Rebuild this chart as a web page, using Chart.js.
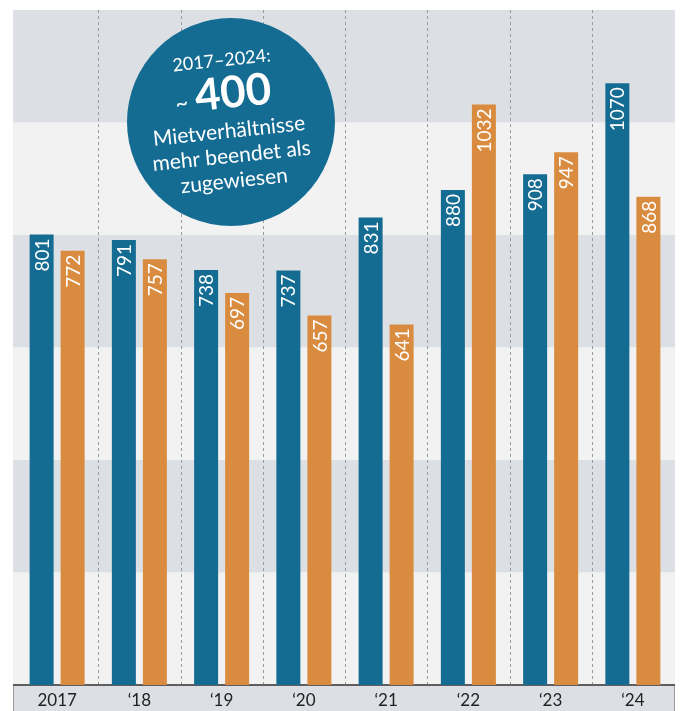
<!DOCTYPE html>
<html>
<head>
<meta charset="utf-8">
<script src="https://cdn.jsdelivr.net/npm/chart.js@4/dist/chart.umd.min.js"></script>
<style>
  body { margin: 0; background: #fff; }
  canvas { display: block; }
</style>
</head>
<body>
<canvas id="myChart" width="681" height="711"></canvas>
<script>
// Chart data
let years = ['2017', '‘18', '‘19', '‘20', '‘21', '‘22', '‘23', '‘24'];
let beendet = [801, 791, 738, 737, 831, 880, 908, 1070];
let zugewiesen = [772, 757, 697, 657, 641, 1032, 947, 868];
let bandTicks = [0, 200, 400, 600, 800, 1000, 1200];
let calloutLines = ['2017–2024:', '400', 'Mietverhältnisse', 'mehr beendet als', 'zugewiesen'];

let blue = '#156c93';
let orange = '#d98c40';
let darkBand = '#dce0e4';
let lightBand = '#f2f2f2';
let fontName = 'Lato, "Noto Sans", sans-serif';

// Background bands, bottom label strip and dashed separators
let backgroundPlugin = {
  id: 'background',
  beforeDraw(chart) {
    let ctx = chart.ctx;
    let area = chart.chartArea;
    let y = chart.scales.y;
    let left = area.left - 3;
    let right = area.right + 1;
    ctx.save();
    ctx.fillStyle = '#fff';
    ctx.fillRect(0, 0, chart.width, chart.height);
    for (let i = 0; i < bandTicks.length - 1; i++) {
      let top = y.getPixelForValue(bandTicks[i + 1]);
      let bottom = y.getPixelForValue(bandTicks[i]);
      ctx.fillStyle = i % 2 === 0 ? lightBand : darkBand;
      ctx.fillRect(left, top, right - left, bottom - top);
    }
    // label strip
    ctx.fillStyle = darkBand;
    ctx.fillRect(left, area.bottom, right - left, chart.height - area.bottom);
    ctx.strokeStyle = '#9a9a9a';
    ctx.lineWidth = 1;
    ctx.beginPath();
    ctx.moveTo(left + 0.5, area.bottom);
    ctx.lineTo(left + 0.5, chart.height);
    ctx.moveTo(right - 0.5, area.bottom);
    ctx.lineTo(right - 0.5, chart.height);
    ctx.stroke();
    ctx.restore();
  },
  beforeDatasetsDraw(chart) {
    let ctx = chart.ctx;
    let area = chart.chartArea;
    let x = chart.scales.x;
    ctx.save();
    ctx.strokeStyle = '#9a9a9a';
    ctx.lineWidth = 1;
    ctx.setLineDash([3, 3]);
    for (let i = 1; i < years.length; i++) {
      let px = Math.round((x.getPixelForValue(i - 1) + x.getPixelForValue(i)) / 2) + 0.5;
      ctx.beginPath();
      ctx.moveTo(px, area.top);
      ctx.lineTo(px, area.bottom);
      ctx.stroke();
    }
    ctx.setLineDash([]);
    // axis line
    ctx.strokeStyle = '#5e5e5e';
    ctx.lineWidth = 2;
    ctx.beginPath();
    ctx.moveTo(area.left - 3, area.bottom);
    ctx.lineTo(area.right + 1, area.bottom);
    ctx.stroke();
    ctx.restore();
  }
};

// Rotated value labels inside the bars + the round callout
let labelPlugin = {
  id: 'labels',
  afterDatasetsDraw(chart) {
    let ctx = chart.ctx;
    ctx.save();
    ctx.fillStyle = '#fff';
    ctx.font = '19px ' + fontName;
    ctx.textAlign = 'right';
    ctx.textBaseline = 'middle';
    chart.data.datasets.forEach((ds, d) => {
      chart.getDatasetMeta(d).data.forEach((bar, i) => {
        ctx.save();
        ctx.translate(bar.x, bar.y + 4);
        ctx.rotate(-Math.PI / 2);
        ctx.fillText(String(ds.data[i]), 0, 1);
        ctx.restore();
      });
    });

    // callout circle
    let area = chart.chartArea;
    let cx = area.left + 215;
    let cy = area.top + 112;
    ctx.fillStyle = blue;
    ctx.beginPath();
    ctx.arc(cx, cy, 104, 0, Math.PI * 2);
    ctx.fill();

    ctx.translate(cx - 3, cy);
    ctx.rotate(-6 * Math.PI / 180);
    ctx.fillStyle = '#fff';
    ctx.textAlign = 'center';
    ctx.textBaseline = 'alphabetic';
    ctx.font = '18px ' + fontName;
    ctx.fillText(calloutLines[0], 0, -56);
    ctx.font = 'bold 44px ' + fontName;
    ctx.fillText(calloutLines[1], 8, -14);
    ctx.font = '22px ' + fontName;
    ctx.fillText('~', -44, -16);
    ctx.font = '21px ' + fontName;
    ctx.fillText(calloutLines[2], 0, 16);
    ctx.fillText(calloutLines[3], 0, 41);
    ctx.fillText(calloutLines[4], 0, 66);
    ctx.restore();
  }
};

const ctx = document.getElementById('myChart').getContext('2d');

const myChart = new Chart(ctx, {
  type: 'bar',
  data: {
    labels: years,
    datasets: [
      {
        label: 'beendet',
        data: beendet,
        backgroundColor: blue,
        borderWidth: 0,
        barPercentage: 0.774,
        categoryPercentage: 0.754
      },
      {
        label: 'zugewiesen',
        data: zugewiesen,
        backgroundColor: orange,
        borderWidth: 0,
        barPercentage: 0.774,
        categoryPercentage: 0.754
      }
    ]
  },
  options: {
    responsive: false,
    devicePixelRatio: 1,
    animation: false,
    layout: { padding: { left: 16, right: 7, top: 10, bottom: 0 } },
    plugins: {
      legend: { display: false },
      tooltip: { enabled: false }
    },
    scales: {
      x: {
        grid: { display: false, drawTicks: false },
        border: { display: false },
        ticks: {
          color: '#222',
          padding: 5,
          font: { family: fontName, size: 17 }
        },
        afterFit(scale) { scale.height = 26; }
      },
      y: {
        display: false,
        min: 0,
        max: 1200
      }
    }
  },
  plugins: [backgroundPlugin, labelPlugin]
});
</script>
</body>
</html>
